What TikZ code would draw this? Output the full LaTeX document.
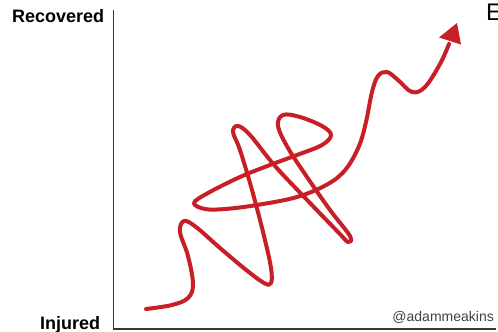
\documentclass[tikz,border=0pt]{standalone}
\usepackage{fontspec}
\setmainfont{Liberation Sans}
\begin{document}
\begin{tikzpicture}[x=1pt,y=-1pt,
  axis/.style={draw=axisgray,line width=1.5pt},
  wiggle/.style={draw=curvered,line width=4pt,line cap=round,line join=round},
  lbl/.style={inner sep=0pt,font=\fontsize{18}{20}\selectfont\bfseries}]
\definecolor{axisgray}{RGB}{55,55,55}
\definecolor{curvered}{RGB}{200,30,38}
\useasboundingbox (0,0) rectangle (498,332);
\coordinate (ytop) at (113.5,10);
\coordinate (origin) at (113.5,329);
\coordinate (xend) at (496,329);
\draw[axis] (ytop) -- (origin) -- (xend);
\node[lbl,anchor=base west] (rec) at (12,23) {Recovered};
\node[lbl,anchor=base west] (inj) at (40,329.5) {Injured};
\node[inner sep=0pt,anchor=base east,text=black!75,font=\fontsize{14}{16}\selectfont] (tag) at (494,321) {@adammeakins};
\node[inner sep=0pt,anchor=base west,font=\fontsize{24}{26}\selectfont] (e) at (486,20) {E};
\draw[wiggle] plot[smooth,tension=0.6] coordinates {
 (146,309) (172,305) (188,298) (193,284) (188,256) (180,232) (184,221) (196,227)
 (220,248) (245,269) (264,283) (271,283) (271,268) (264,236) (252,190) (240,150)
 (233,132) (238,126) (250,135) (275,166) (310,203) (338,232) (348,242) (350,236)
 (330,210) (307,177) (288,148) (278,126) (283,115) (300,117) (322,126) (331,135) (322,145)
 (297,155) (270,165) (240,177) (208,193) (194,203) (205,209) (225,209) (257,205) (297,197)
 (328,184) (346,169) (359,146) (366,122) (372,92) (378,76) (387,72) (398,80)
 (412,92) (425,87) (440,64) (449,44)};
\fill[curvered] (457,23) -- (439,37.5) -- (461,44.5) -- cycle;
\end{tikzpicture}
\end{document}
